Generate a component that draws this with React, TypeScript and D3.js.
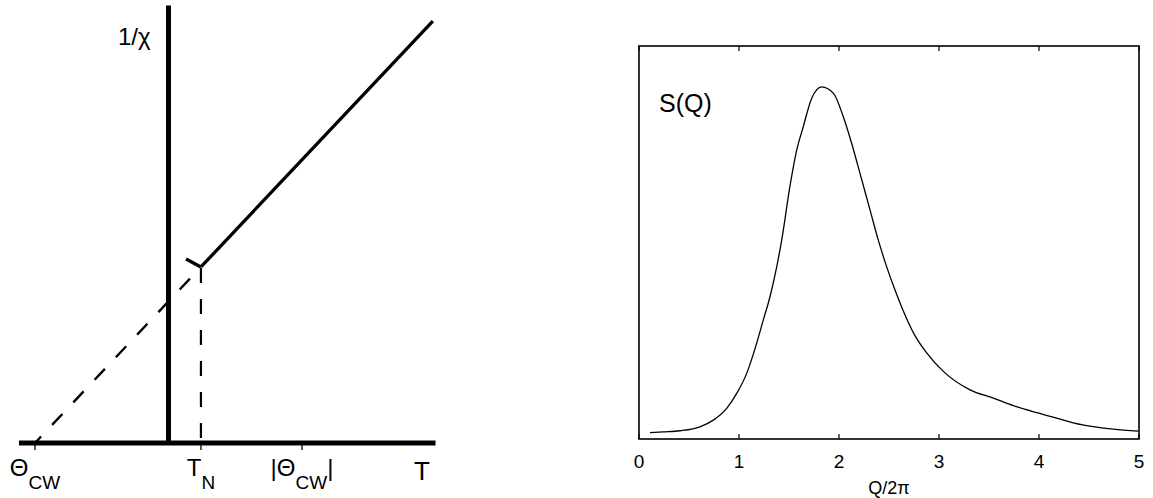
import React from "react";
import * as d3 from "d3";

// ---- Left panel: inverse susceptibility vs temperature (Curie–Weiss sketch) ----
const thetaCW = -1;
const tNeel = 0.243;
const tAxisMin = -1.12;
const tAxisMax = 2.0;
const tLineEnd = 1.98;
const invChiAxisTop = 3.09;
const tTicks = [thetaCW, tNeel, -thetaCW];
const tTickMain = ["Θ", "T", "|Θ"];
const tTickSub = ["CW", "N", "CW"];
const tTickSuffix = ["", "", "|"];
// short branch marking the ordered-phase side of T_N
const branchDT = -0.112;
const branchDY = 0.056;

// ---- Right panel: structure factor S(Q) ----
const qValues = [
  0.11, 0.243, 0.41, 0.61, 0.743, 0.877, 0.977, 1.077, 1.177, 1.243, 1.31,
  1.377, 1.427, 1.51, 1.577, 1.643, 1.727, 1.827, 1.943, 2.043, 2.127, 2.21,
  2.31, 2.393, 2.477, 2.56, 2.643, 2.76, 2.877, 3.043, 3.31, 3.543, 3.743,
  3.977, 4.177, 4.343, 4.577, 4.743, 4.993,
];
const sValues = [
  0.016, 0.018, 0.021, 0.031, 0.048, 0.078, 0.116, 0.167, 0.244, 0.303, 0.362,
  0.438, 0.506, 0.644, 0.735, 0.795, 0.867, 0.896, 0.88, 0.82, 0.752, 0.676,
  0.583, 0.506, 0.438, 0.379, 0.326, 0.263, 0.219, 0.172, 0.125, 0.104, 0.085,
  0.067, 0.053, 0.041, 0.03, 0.025, 0.02,
];
const qTicks = [0, 1, 2, 3, 4, 5];

const FONT = "'Liberation Sans', Arial, Helvetica, sans-serif";

export default function App() {
  // left panel scales
  const tx = d3.scaleLinear().domain([0, 1]).range([168.5, 302]);
  const ty = d3.scaleLinear().domain([0, 1]).range([443, 443 - 141.6]);
  const invChi = (t: number) => t - thetaCW;
  const line2 = d3
    .line<[number, number]>()
    .x((d) => tx(d[0]))
    .y((d) => ty(d[1]));

  const vertex: [number, number] = [tNeel, invChi(tNeel)];
  const solid = line2([vertex, [tLineEnd, invChi(tLineEnd)]]) || "";
  const dashedDiag = line2([vertex, [thetaCW, invChi(thetaCW)]]) || "";
  const dashedVert = line2([vertex, [tNeel, 0]]) || "";
  const branch =
    line2([vertex, [tNeel + branchDT, invChi(tNeel) + branchDY]]) || "";

  // right panel scales
  const qx = d3.scaleLinear().domain([0, 5]).range([639, 1139]);
  const sy = d3.scaleLinear().domain([0, 1]).range([439, 46]);
  const pts: [number, number][] = qValues.map((q, i) => [q, sValues[i]]);
  const sPath =
    d3
      .line<[number, number]>()
      .x((d) => qx(d[0]))
      .y((d) => sy(d[1]))
      .curve(d3.curveMonotoneX)(pts) || "";

  return (
    <svg
      width={1153}
      height={498}
      style={{ position: "absolute", left: 0, top: 0, background: "#fff" }}
      fontFamily={FONT}
    >
      {/* ---------- left panel ---------- */}
      <g>
        <path
          d={dashedDiag}
          stroke="#000"
          strokeWidth={2.4}
          strokeDasharray="15 16"
          strokeDashoffset={15}
          fill="none"
        />
        <path
          d={dashedVert}
          stroke="#000"
          strokeWidth={2.2}
          strokeDasharray="15 16"
          strokeDashoffset={-1}
          fill="none"
        />
        {tTicks.map((t, i) => (
          <line
            key={"tt" + i}
            x1={tx(t)}
            x2={tx(t)}
            y1={ty(0)}
            y2={ty(0) + 7}
            stroke="#000"
            strokeWidth={1.3}
          />
        ))}
        <line
          x1={tx(tAxisMin)}
          x2={tx(tAxisMax)}
          y1={ty(0)}
          y2={ty(0)}
          stroke="#000"
          strokeWidth={5}
        />
        <line
          x1={tx(0)}
          x2={tx(0)}
          y1={ty(0)}
          y2={ty(invChiAxisTop)}
          stroke="#000"
          strokeWidth={5}
        />
        <path d={solid} stroke="#000" strokeWidth={3.3} fill="none" />
        <path d={branch} stroke="#000" strokeWidth={3.3} fill="none" />

        {tTicks.map((t, i) => (
          <text
            key={"tl" + i}
            x={tx(t)}
            y={476}
            textAnchor="middle"
            fontSize={24}
            fill="#000"
          >
            <tspan>{tTickMain[i]}</tspan>
            <tspan fontSize={19} dy={13}>
              {tTickSub[i]}
            </tspan>
            {tTickSuffix[i] ? (
              <tspan fontSize={24} dy={-13}>
                {tTickSuffix[i]}
              </tspan>
            ) : null}
          </text>
        ))}
        <text x={422} y={480} textAnchor="middle" fontSize={26} fill="#000">
          T
        </text>
        <text x={118} y={45} fontSize={24} fill="#000">
          1/χ
        </text>
      </g>

      {/* ---------- right panel ---------- */}
      <g>
        <rect
          x={qx(0)}
          y={sy(1)}
          width={qx(5) - qx(0)}
          height={sy(0) - sy(1)}
          fill="none"
          stroke="#000"
          strokeWidth={1.6}
        />
        {qTicks.map((q) => (
          <g key={"q" + q}>
            <line
              x1={qx(q)}
              x2={qx(q)}
              y1={sy(0)}
              y2={sy(0) - 5}
              stroke="#000"
              strokeWidth={1.2}
            />
            <line
              x1={qx(q)}
              x2={qx(q)}
              y1={sy(1)}
              y2={sy(1) + 5}
              stroke="#000"
              strokeWidth={1.2}
            />
            <text
              x={qx(q)}
              y={468}
              textAnchor="middle"
              fontSize={19}
              fill="#000"
            >
              {q}
            </text>
          </g>
        ))}
        <path d={sPath} stroke="#000" strokeWidth={1.3} fill="none" />
        <text x={889} y={494} textAnchor="middle" fontSize={18} fill="#000">
          Q/2π
        </text>
        <text x={659} y={112} fontSize={25} fill="#000">
          S(Q)
        </text>
      </g>
    </svg>
  );
}
